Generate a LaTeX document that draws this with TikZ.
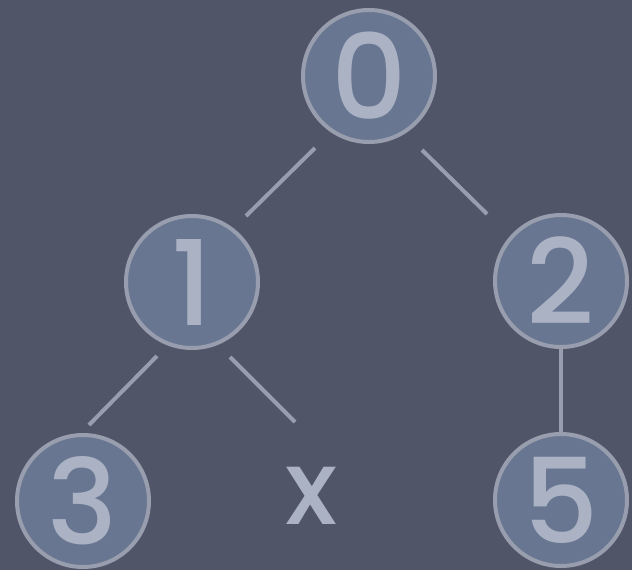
\documentclass[tikz,border=0pt]{standalone}
\usepackage{fontspec}
\setmainfont{Poppins}[BoldFont={Poppins Medium}]
\definecolor{bgc}{RGB}{80,86,104}
\definecolor{fillc}{RGB}{104,118,145}
\definecolor{strokec}{RGB}{152,158,174}
\definecolor{textc}{RGB}{170,178,196}
\begin{document}
\begin{tikzpicture}[x=1pt,y=-1pt,
  treenode/.style={circle,draw=strokec,fill=fillc,line width=4pt,minimum size=132pt,inner sep=0pt,
    text=textc,font=\fontsize{118}{118}\selectfont\bfseries},
  edge/.style={draw=strokec,line width=4pt},
  blank/.style={text=textc,font=\fontsize{104}{104}\selectfont\bfseries,inner sep=0pt}]
\fill[bgc] (0,0) rectangle (632,570);
\useasboundingbox (0,0) rectangle (632,570);
\node[treenode] (n0) at (369,76) {0};
\node[treenode] (n1) at (192,282) {1};
\node[treenode] (n2) at (561,281) {2};
\node[treenode] (n3) at (83,501) {3};
\node[treenode] (n5) at (561,500) {5};
\node[blank] (nx) at (311,496) {x};
\coordinate (a1) at (315,148); \coordinate (a2) at (246,216);
\coordinate (b1) at (422,150); \coordinate (b2) at (487,214);
\coordinate (c1) at (157,356); \coordinate (c2) at (89,425);
\coordinate (d1) at (230,357); \coordinate (d2) at (295,422);
\draw[edge] (a1) -- (a2);
\draw[edge] (b1) -- (b2);
\draw[edge] (c1) -- (c2);
\draw[edge] (d1) -- (d2);
\draw[edge] (n2) -- (n5);
\end{tikzpicture}
\end{document}
